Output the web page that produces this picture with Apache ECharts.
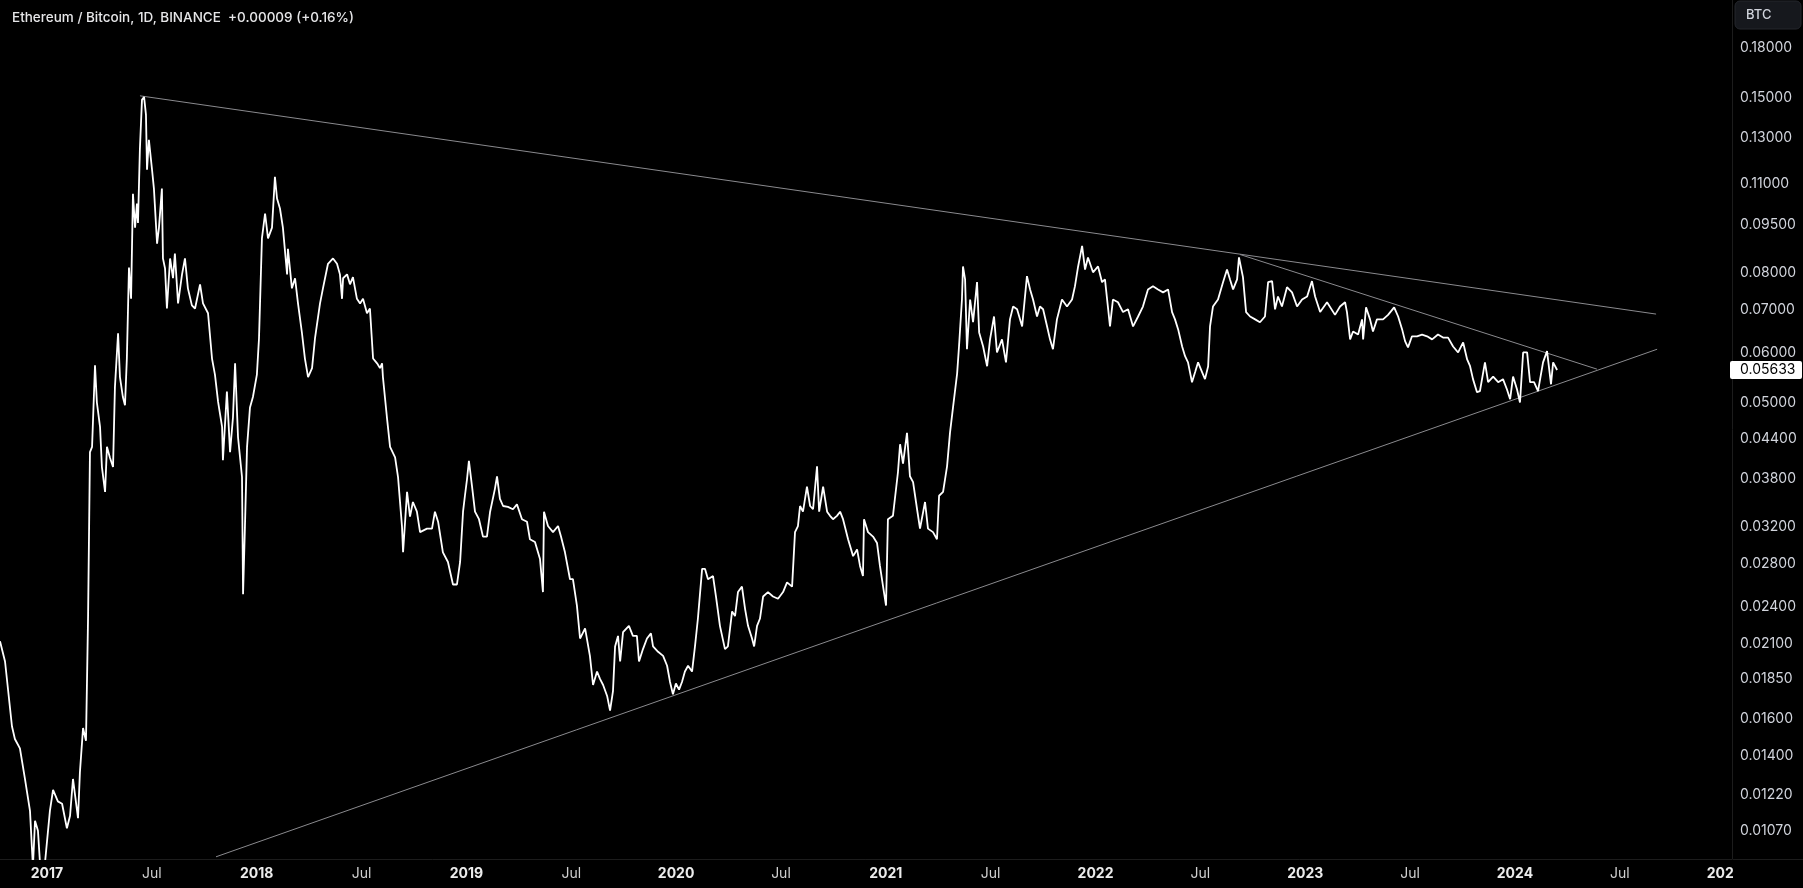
<!DOCTYPE html>
<html>
<head>
<meta charset="utf-8">
<script src="https://cdn.jsdelivr.net/npm/echarts@6/dist/echarts.min.js"></script>
<style>
html,body{margin:0;padding:0;background:#000;}
#chart{width:1803px;height:888px;}
</style>
</head>
<body>
<div id="chart"></div>
<script>
// ---- data (time in decimal years, ETH/BTC price) ----
const years = [
2016.776,2016.800,2016.833,2016.847,2016.871,2016.895,2016.919,2016.928,2016.933,2016.943,
2016.957,2016.967,2016.990,2017.014,2017.029,2017.052,2017.072,2017.095,2017.110,2017.124,
2017.148,2017.157,2017.172,2017.186,2017.191,2017.196,2017.205,2017.215,2017.229,2017.238,
2017.253,2017.262,2017.277,2017.286,2017.300,2017.315,2017.324,2017.339,2017.348,2017.362,
2017.372,2017.381,2017.391,2017.401,2017.410,2017.420,2017.429,2017.434,2017.443,2017.453,
2017.463,2017.472,2017.477,2017.486,2017.501,2017.510,2017.525,2017.534,2017.548,2017.553,
2017.563,2017.572,2017.587,2017.601,2017.610,2017.625,2017.644,2017.658,2017.672,2017.691,
2017.706,2017.730,2017.744,2017.768,2017.787,2017.801,2017.816,2017.835,2017.839,2017.858,
2017.873,2017.887,2017.897,2017.911,2017.930,2017.935,2017.944,2017.954,2017.968,2017.982,
2018.001,2018.011,2018.025,2018.040,2018.054,2018.073,2018.087,2018.097,2018.111,2018.125,
2018.145,2018.149,2018.168,2018.183,2018.197,2018.216,2018.230,2018.245,2018.264,2018.278,
2018.302,2018.316,2018.340,2018.364,2018.383,2018.397,2018.407,2018.412,2018.431,2018.445,
2018.459,2018.478,2018.493,2018.507,2018.526,2018.540,2018.555,2018.574,2018.588,2018.598,
2018.602,2018.621,2018.636,2018.660,2018.674,2018.693,2018.698,2018.717,2018.731,2018.745,
2018.764,2018.779,2018.812,2018.836,2018.850,2018.865,2018.888,2018.912,2018.936,2018.955,
2018.970,2018.984,2018.993,2019.003,2019.012,2019.027,2019.041,2019.060,2019.079,2019.098,
2019.113,2019.136,2019.146,2019.160,2019.175,2019.198,2019.222,2019.241,2019.265,2019.289,
2019.303,2019.327,2019.351,2019.365,2019.370,2019.389,2019.413,2019.437,2019.451,2019.470,
2019.494,2019.508,2019.527,2019.542,2019.566,2019.589,2019.604,2019.623,2019.637,2019.652,
2019.671,2019.685,2019.699,2019.709,2019.723,2019.733,2019.747,2019.775,2019.794,2019.813,
2019.823,2019.842,2019.861,2019.880,2019.890,2019.914,2019.938,2019.957,2019.971,2019.985,
2019.999,2020.014,2020.028,2020.042,2020.057,2020.076,2020.090,2020.104,2020.124,2020.138,
2020.152,2020.176,2020.190,2020.209,2020.233,2020.247,2020.267,2020.281,2020.295,2020.314,
2020.329,2020.343,2020.362,2020.372,2020.386,2020.400,2020.415,2020.438,2020.462,2020.486,
2020.510,2020.529,2020.553,2020.567,2020.581,2020.591,2020.605,2020.624,2020.639,2020.653,
2020.672,2020.682,2020.701,2020.720,2020.734,2020.748,2020.767,2020.782,2020.796,2020.820,
2020.844,2020.863,2020.877,2020.891,2020.896,2020.915,2020.939,2020.958,2020.972,2020.987,
2021.001,2021.010,2021.034,2021.058,2021.068,2021.082,2021.101,2021.115,2021.130,2021.149,
2021.163,2021.187,2021.201,2021.225,2021.244,2021.254,2021.273,2021.292,2021.306,2021.321,
2021.340,2021.349,2021.363,2021.368,2021.378,2021.387,2021.402,2021.416,2021.435,2021.445,
2021.464,2021.483,2021.497,2021.516,2021.530,2021.554,2021.573,2021.592,2021.607,2021.626,
2021.650,2021.673,2021.688,2021.702,2021.721,2021.735,2021.750,2021.769,2021.783,2021.797,
2021.816,2021.840,2021.864,2021.888,2021.902,2021.917,2021.936,2021.950,2021.964,2021.988,
2022.012,2022.031,2022.045,2022.069,2022.083,2022.107,2022.131,2022.155,2022.179,2022.203,
2022.226,2022.250,2022.274,2022.298,2022.322,2022.346,2022.365,2022.379,2022.394,2022.413,
2022.427,2022.441,2022.460,2022.475,2022.489,2022.508,2022.522,2022.537,2022.546,2022.560,
2022.584,2022.608,2022.627,2022.641,2022.656,2022.675,2022.684,2022.703,2022.718,2022.737,
2022.761,2022.784,2022.808,2022.823,2022.842,2022.856,2022.870,2022.889,2022.913,2022.937,
2022.961,2022.985,2023.009,2023.032,2023.047,2023.071,2023.104,2023.142,2023.166,2023.190,
2023.199,2023.214,2023.228,2023.252,2023.271,2023.276,2023.290,2023.309,2023.323,2023.342,
2023.371,2023.395,2023.424,2023.443,2023.462,2023.476,2023.490,2023.509,2023.533,2023.557,
2023.581,2023.605,2023.633,2023.657,2023.681,2023.705,2023.729,2023.753,2023.772,2023.786,
2023.800,2023.819,2023.833,2023.857,2023.872,2023.896,2023.920,2023.943,2023.962,2023.977,
2023.991,2024.010,2024.024,2024.039,2024.058,2024.072,2024.091,2024.110,2024.134,2024.153,
2024.172,2024.182,2024.201
];
const prices = [
.0212,.0197,.0156,.0149,.0144,.0129,.0115,.0101,.0094,.0111,
.0107,.0095,.0095,.0115,.0124,.0119,.0118,.0108,.0113,.0129,
.0112,.0132,.0155,.0148,.0185,.0232,.0419,.0427,.0573,.0501,
.0459,.0397,.0363,.0427,.0411,.0397,.0529,.0643,.0549,.0511,
.0496,.0588,.0815,.0728,.1063,.0941,.1026,.0957,.1246,.1491,
.1507,.1414,.1159,.1291,.1159,.1083,.0888,.0941,.1083,.0842,
.0812,.0703,.0842,.0784,.0857,.0716,.0795,.0842,.0756,.0711,
.0703,.0767,.0716,.0691,.0587,.0554,.0502,.0459,.0407,.0521,
.0419,.0475,.0577,.0442,.0383,.0251,.0320,.0427,.0492,.0511,
.0554,.0631,.0905,.0990,.0905,.0941,.1130,.1045,.1008,.0941,
.0795,.0872,.0756,.0784,.0716,.0643,.0587,.0549,.0567,.0631,
.0716,.0756,.0826,.0842,.0826,.0795,.0728,.0784,.0795,.0767,
.0787,.0728,.0716,.0728,.0691,.0703,.0587,.0577,.0567,.0577,
.0549,.0475,.0427,.0411,.0383,.0320,.0292,.0363,.0332,.0350,
.0338,.0314,.0318,.0318,.0338,.0326,.0292,.0282,.0260,.0260,
.0282,.0338,.0358,.0380,.0406,.0370,.0338,.0329,.0309,.0309,
.0338,.0367,.0384,.0354,.0345,.0344,.0341,.0347,.0329,.0326,
.0306,.0303,.0285,.0253,.0338,.0321,.0314,.0321,.0309,.0292,
.0265,.0265,.0241,.0214,.0222,.0201,.0181,.0190,.0185,.0181,
.0174,.0165,.0177,.0208,.0216,.0197,.0219,.0224,.0216,.0216,
.0197,.0206,.0214,.0218,.0208,.0204,.0201,.0194,.0183,.0175,
.0182,.0178,.0183,.0190,.0194,.0190,.0208,.0230,.0275,.0275,
.0265,.0268,.0249,.0224,.0206,.0208,.0236,.0232,.0253,.0258,
.0238,.0224,.0214,.0208,.0224,.0230,.0249,.0253,.0249,.0247,
.0253,.0262,.0258,.0314,.0321,.0345,.0338,.0370,.0345,.0341,
.0398,.0338,.0370,.0338,.0333,.0329,.0333,.0338,.0329,.0306,
.0288,.0295,.0278,.0268,.0329,.0314,.0309,.0302,.0278,.0258,
.0241,.0329,.0333,.0390,.0431,.0402,.0449,.0384,.0376,.0341,
.0318,.0350,.0318,.0314,.0306,.0358,.0363,.0398,.0449,.0494,
.0556,.0613,.0726,.0818,.0781,.0607,.0726,.0669,.0773,.0645,
.0613,.0571,.0629,.0683,.0600,.0629,.0579,.0676,.0708,.0701,
.0659,.0790,.0753,.0726,.0683,.0708,.0701,.0659,.0629,.0607,
.0676,.0726,.0708,.0726,.0762,.0818,.0881,.0809,.0845,.0801,
.0818,.0773,.0781,.0659,.0726,.0719,.0694,.0701,.0659,.0683,
.0708,.0753,.0762,.0753,.0745,.0753,.0694,.0676,.0652,.0613,
.0592,.0579,.0539,.0559,.0579,.0559,.0545,.0571,.0659,.0708,
.0726,.0773,.0809,.0781,.0753,.0781,.0845,.0787,.0694,.0683,
.0676,.0669,.0683,.0773,.0776,.0701,.0734,.0708,.0759,.0745,
.0708,.0726,.0734,.0776,.0734,.0694,.0719,.0687,.0708,.0719,
.0694,.0629,.0647,.0640,.0676,.0629,.0706,.0676,.0647,.0676,
.0676,.0687,.0706,.0683,.0652,.0625,.0611,.0636,.0636,.0640,
.0636,.0629,.0640,.0633,.0633,.0613,.0600,.0622,.0585,.0571,
.0545,.0520,.0522,.0579,.0539,.0550,.0539,.0545,.0525,.0507,
.0550,.0525,.0501,.0600,.0600,.0539,.0539,.0522,.0579,.0603,
.0535,.0579,.05633
];
// trendlines (start/end points in data space)
const upperLineYears  = [2017.4435, 2024.673];
const upperLinePrices = [0.1513, 0.0689];
const lowerLineYears  = [2017.806, 2024.678];
const lowerLinePrices = [0.009745, 0.0607];
const midLineYears    = [2022.689, 2024.391];
const midLinePrices   = [0.0854, 0.0565];
// axes
const priceTicks = [0.18,0.15,0.13,0.11,0.095,0.08,0.07,0.06,0.05,0.044,0.038,0.032,0.028,0.024,0.021,0.0185,0.016,0.014,0.0122,0.0107];
const timeTicks = [2017,2017.5,2018,2018.5,2019,2019.5,2020,2020.5,2021,2021.5,2022,2022.5,2023,2023.5,2024,2024.5,2025];
const xMin = 2016.776, xMax = 2025.035;
const priceMin = 0.009668, priceMax = 0.2137;
const lastPrice = 0.05633;
const titleText = 'Ethereum / Bitcoin, 1D, BINANCE  +0.00009 (+0.16%)';
const currencyText = 'BTC';

const L = v => Math.log10(v);
const pairs = (xs, ys) => xs.slice(0, Math.min(xs.length, ys.length)).map((x, i) => [x, L(ys[i])]);
const FONT = 'Inter, "Noto Sans", sans-serif';

const chart = echarts.init(document.getElementById('chart'), null, {renderer: 'canvas', width: 1803, height: 888});
const trendStyle = {color: '#8a8a8e', width: 1};
const option = {
  backgroundColor: '#000000',
  animation: false,
  title: {
    text: titleText, left: 7, top: 6,
    textStyle: {color: '#e6e6e8', fontSize: 13.5, fontWeight: 500, fontFamily: FONT}
  },
  grid: {left: 0, right: 71, top: 0, bottom: 29},
  xAxis: {
    type: 'value', min: xMin, max: xMax,
    axisLine: {show: true, onZero: false, lineStyle: {color: '#1c1c1c', width: 1}},
    axisTick: {show: false},
    splitLine: {show: false},
    axisLabel: {
      customValues: timeTicks,
      margin: 8,
      formatter: v => (Math.abs(v - Math.round(v)) < 1e-6 ? '{y|' + Math.round(v) + '}' : '{m|Jul}'),
      rich: {
        y: {color: '#ececec', fontSize: 14, fontWeight: 'bold', fontFamily: FONT},
        m: {color: '#d0d0d0', fontSize: 14, fontWeight: 'normal', fontFamily: FONT}
      }
    }
  },
  yAxis: {
    type: 'value', position: 'right', min: L(priceMin), max: L(priceMax),
    axisLine: {show: true, onZero: false, lineStyle: {color: '#1c1c1c', width: 1}},
    axisTick: {show: false},
    splitLine: {show: false},
    axisLabel: {
      customValues: priceTicks.map(L),
      margin: 8,
      color: '#d1d4dc', fontSize: 14, fontFamily: FONT,
      formatter: v => Math.pow(10, v).toFixed(5)
    }
  },
  series: [
    {type: 'line', data: pairs(upperLineYears, upperLinePrices), showSymbol: false, lineStyle: trendStyle, clip: true, silent: true, z: 1},
    {type: 'line', data: pairs(lowerLineYears, lowerLinePrices), showSymbol: false, lineStyle: trendStyle, clip: true, silent: true, z: 1},
    {type: 'line', data: pairs(midLineYears, midLinePrices), showSymbol: false, lineStyle: trendStyle, clip: true, silent: true, z: 1},
    {type: 'line', data: pairs(years, prices), showSymbol: false, lineStyle: {color: '#ffffff', width: 1.8}, clip: true, z: 3}
  ]
};
chart.setOption(option);

const py = chart.convertToPixel({yAxisIndex: 0}, L(lastPrice));
chart.setOption({
  graphic: [
    {type: 'rect', z: 100, shape: {x: 1733, y: 860, width: 70, height: 28}, style: {fill: '#000000'}},
    {type: 'line', z: 101, shape: {x1: 1733, y1: 859.5, x2: 1803, y2: 859.5}, style: {stroke: '#1c1c1c', lineWidth: 1}},
    {type: 'rect', z: 100, shape: {x: 1735, y: 1, width: 66, height: 28, r: 5}, style: {fill: '#16181d', stroke: '#24262c', lineWidth: 1}},
    {type: 'text', z: 101, x: 1746, y: 15, style: {text: currencyText, fill: '#d1d4dc', font: '500 13px ' + FONT, verticalAlign: 'middle'}},
    {type: 'rect', z: 100, shape: {x: 1730, y: py - 9, width: 72, height: 18, r: 2}, style: {fill: '#ffffff'}},
    {type: 'text', z: 101, x: 1740, y: py, style: {text: lastPrice.toFixed(5), fill: '#000000', font: '14px ' + FONT, verticalAlign: 'middle'}}
  ]
});
</script>
</body>
</html>
